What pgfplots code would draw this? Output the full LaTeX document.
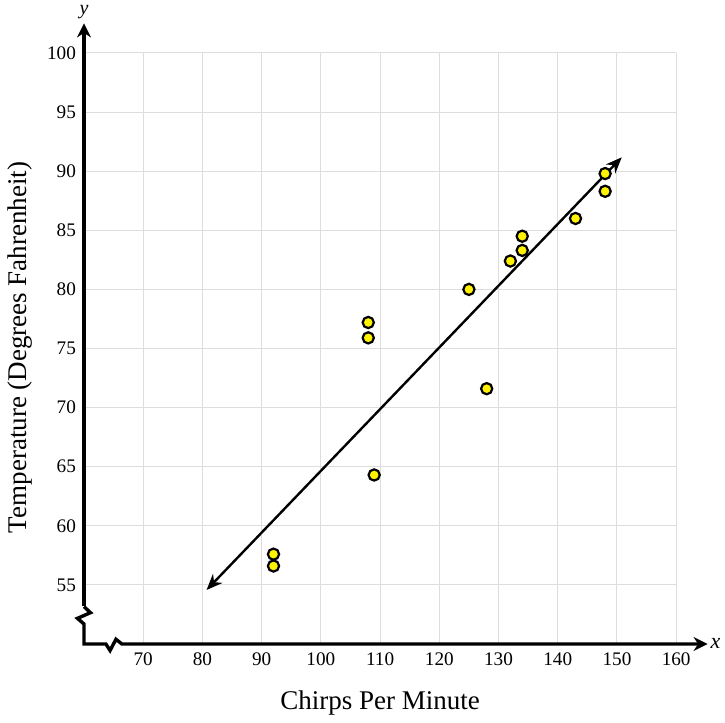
\documentclass[border=0pt]{standalone}
\usepackage{fontspec}
\setmainfont{Liberation Serif}
\usepackage{pgfplots}
\pgfplotsset{compat=1.18}
\usetikzlibrary{arrows.meta}
\definecolor{gridc}{HTML}{DDDDDD}
\definecolor{dotc}{HTML}{FFF200}
\begin{document}
\begin{tikzpicture}
\useasboundingbox (-42pt,-39.5pt) rectangle (320.5pt,322pt);
\begin{axis}[
  at={(0,0)}, anchor=south west,
  x=2.961pt, y=5.91pt,
  xmin=60, xmax=165, ymin=50, ymax=102.6,
  clip=false,
  axis line style={draw=none},
  tick style={draw=none},
  xtick={70,80,...,160}, ytick={55,60,...,100},
  /pgf/number format/assume math mode=true,
  ticklabel style={font=\fontsize{9.6}{10}\selectfont},
  xticklabel style={yshift=-1pt},
  yticklabel style={xshift=-0.5pt},
]
\pgfplotsinvokeforeach{70,80,...,160}{
  \draw[gridc, line width=0.5pt] (axis cs:#1,50) -- (axis cs:#1,100);
}
\pgfplotsinvokeforeach{55,60,...,100}{
  \draw[gridc, line width=0.5pt] (axis cs:60,#1) -- (axis cs:160,#1);
}
% axes with breaks
\draw[line width=1.7pt, -{Stealth[length=7pt,width=7pt]}, line join=miter]
  (axis cs:60,53.16) -- (axis cs:61.1,52.65) -- (axis cs:58.9,52.17) -- (axis cs:60,51.69) -- (axis cs:60,50)
  -- (axis cs:63.7,50) -- (axis cs:64.4,49.45) -- (axis cs:65.4,50.4) -- (axis cs:66.4,50) -- (axis cs:165.3,50);
\draw[line width=1.7pt, -{Stealth[length=7pt,width=7pt]}]
  (axis cs:60,53.2) -- (axis cs:60,102.5);
\node[font=\itshape\fontsize{10}{10}\selectfont] at (axis cs:60,102.5) [yshift=5.5pt] {y};
\node[font=\itshape\fontsize{11}{11}\selectfont] at (axis cs:165.3,50) [xshift=4pt, yshift=0.5pt] {x};
% regression line
\addplot[black, line width=1.2pt, {Stealth[length=8pt,width=6.5pt]}-{Stealth[length=8pt,width=6.5pt]}]
  coordinates {(80.7,54.57) (150.8,91.17)};
% data
\addplot[only marks, mark=*, mark size=2.8pt, mark options={fill=dotc, draw=black, line width=1.1pt}]
  coordinates {
  (92,57.6) (92,56.6) (108,77.2) (108,75.9) (109,64.3) (125,80.0)
  (128,71.6) (132,82.4) (134,84.5) (134,83.3) (143,86.0) (148,89.8) (148,88.3)
  };
\node[font=\fontsize{13.5}{14}\selectfont] at (axis cs:110,50) [yshift=-29.5pt] {Chirps Per Minute};
\node[font=\fontsize{13.5}{14}\selectfont, xshift=-32pt, rotate=90] at (axis cs:60,75.1) {Temperature (Degrees Fahrenheit)};
\end{axis}
\end{tikzpicture}
\end{document}
